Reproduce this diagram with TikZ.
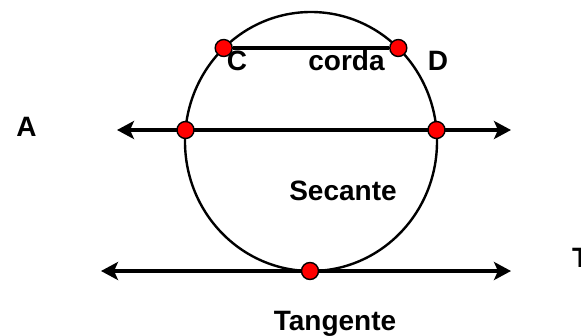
\documentclass[tikz,border=0pt]{standalone}
\usepackage{fontspec}
\setmainfont{Liberation Sans}
\usetikzlibrary{arrows.meta}
\tikzset{
  lbl/.style={font=\fontsize{28}{30}\selectfont\bfseries, inner sep=0pt, anchor=base},
  pt/.style={circle, draw=black, line width=1.4pt, fill=red, minimum size=17pt, inner sep=0pt},
  thickline/.style={line width=3.5pt},
  arrline/.style={line width=3.5pt, {Stealth[length=17pt,width=18pt,inset=4pt]}-{Stealth[length=17pt,width=18pt,inset=4pt]}},
}
\begin{document}
\begin{tikzpicture}[x=1pt,y=-1pt]
\useasboundingbox (0,0) rectangle (581,335);
\clip (0,0) rectangle (581,335);
\fill[white] (0,0) rectangle (581,335);
% circle
\coordinate (O) at (311,141.5);
\draw[line width=2.4pt] (O) ellipse [x radius=126, y radius=129.5];
% secant line
\coordinate (s1) at (117,130);
\coordinate (s2) at (511,130);
\draw[arrline] (s1) -- (s2);
% tangent line
\coordinate (t1) at (101,271);
\coordinate (t2) at (511,271);
\draw[arrline] (t1) -- (t2);
% points
\node[pt] (C) at (223.7,48) {};
\node[pt] (D) at (398.3,48) {};
\draw[thickline] (C) -- (D);
\node[pt] (P1) at (185.5,130) {};
\node[pt] (P2) at (436.5,130) {};
\node[pt] (P3) at (310,271) {};
% labels
\node[lbl] (lA) at (26.5,136) {A};
\node[lbl] (lC) at (237,70) {C};
\node[lbl] (lcorda) at (346.5,70) {corda};
\node[lbl] (lD) at (438,70) {D};
\node[lbl] (lsec) at (343,200) {Secante};
\node[lbl, anchor=base west] (lT) at (572,267) {T};
\node[lbl] (ltan) at (335,330) {Tangente};
\end{tikzpicture}
\end{document}
